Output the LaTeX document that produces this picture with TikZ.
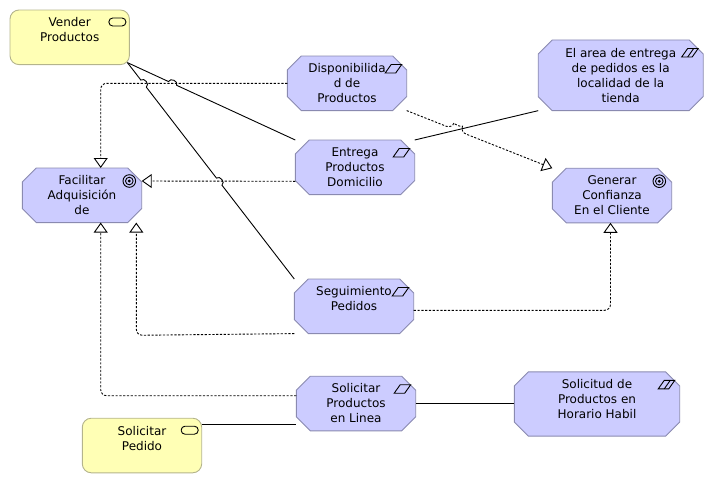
\documentclass[tikz,border=0pt]{standalone}
\usepackage{fontspec}
\setmainfont{DejaVu Sans}
\usetikzlibrary{calc,arrows.meta,shapes.misc}
\definecolor{boxblue}{HTML}{CCCCFF}
\definecolor{boxyellow}{HTML}{FFFFB5}
\definecolor{edgeblue}{HTML}{8A8AB0}
\definecolor{edgeyellow}{HTML}{B4B48C}
\tikzset{
	motive/.style={draw=edgeblue,fill=boxblue,line width=0.9pt,chamfered rectangle,chamfered rectangle xsep=7pt,chamfered rectangle ysep=7pt,inner sep=0pt,outer sep=0pt,align=center,font=\fontsize{12}{15}\selectfont,minimum width=119.4pt,minimum height=54.6pt},
	business/.style={draw=edgeyellow,fill=boxyellow,line width=0.9pt,rectangle,rounded corners=9pt,inner sep=0pt,outer sep=0pt,align=center,font=\fontsize{12}{15}\selectfont,minimum width=119.4pt,minimum height=54.6pt},
	assoc/.style={draw=black,line width=0.9pt},
	realize/.style={draw=black,line width=0.9pt,dash pattern=on 2.2pt off 1.6pt,rounded corners=6pt,-{Triangle[length=10pt,width=14pt,fill=white]}},
	jump/.style={bend left=90,looseness=1.3},
	icon/.style={draw=black,line width=0.9pt}
}
\begin{document}
\begin{tikzpicture}[x=1pt,y=-1pt]
\useasboundingbox (0,0) rectangle (713,483);
% elements
\node (vender) [business] at (69.7,37.3) {Vender\\Productos\\~};
\node (pedido) [business] at (142,445.5) {Solicitar\\Pedido\\~};
\node (facilitar) [motive] at (82,195.3) {Facilitar\\Adquisición\\de};
\node (generar) [motive] at (612,195.5) {Generar\\Confianza\\En el Cliente};
\node (disponibilidad) [motive] at (347,83.3) {Disponibilida\\d de\\Productos};
\node (entrega) [motive] at (355,167.3) {Entrega\\Productos\\Domicilio};
\node (seguimiento) [motive] at (354,306.3) {Seguimiento\\Pedidos\\~};
\node (solicitar) [motive] at (356,403.5) {Solicitar\\Productos\\en Linea};
\node (localidad) [motive,minimum width=165pt,minimum height=70.7pt] at (620.7,75.3) {El area de entrega\\de pedidos es la\\localidad de la\\tienda};
\node (horario) [motive,minimum width=165.4pt,minimum height=63.4pt] at (597,404) {Solicitud de\\Productos en\\Horario Habil\\[-4pt]~};
% box corners
\foreach \n in {vender,pedido,facilitar,generar,disponibilidad,entrega,seguimiento,solicitar,localidad,horario} {
	\coordinate (\n-ne) at (\n.north -| \n.east);
	\coordinate (\n-nw) at (\n.north -| \n.west);
	\coordinate (\n-se) at (\n.south -| \n.east);
	\coordinate (\n-sw) at (\n.south -| \n.west);
}
% icons
\foreach \n in {vender,pedido} {
	\draw [icon,rounded corners=3.8pt] ([shift={(-20.5,8)}]\n-ne) rectangle ([shift={(-3.5,16)}]\n-ne);
}
\foreach \n in {facilitar,generar} {
	\draw [icon] ([shift={(-12.4,13)}]\n-ne) circle (6.3pt);
	\draw [icon] ([shift={(-12.4,13)}]\n-ne) circle (3.8pt);
	\fill ([shift={(-12.4,13)}]\n-ne) circle (1.6pt);
}
\foreach \n in {disponibilidad,entrega,seguimiento,solicitar,localidad,horario} {
	\draw [icon] ([shift={(-21.5,17)}]\n-ne) -- ([shift={(-15.5,8.5)}]\n-ne) -- ([shift={(-5,8.5)}]\n-ne) -- ([shift={(-11,17)}]\n-ne) -- cycle;
}
\foreach \n in {localidad,horario} {
	\draw [icon] ([shift={(-15.5,17)}]\n-ne) -- ([shift={(-9.5,8.5)}]\n-ne);
}
% associations
\coordinate (start) at ([shift={(-2,-2)}]vender-se);
\coordinate (jumpa) at ($(start)!.269!(entrega-nw)$);
\coordinate (jumpb) at ($(start)!.097!(seguimiento-nw)$);
\coordinate (jumpc) at ($(start)!.55!(seguimiento-nw)$);
\draw [assoc] (start) -- ($(jumpa)!-4.5pt!(entrega-nw)$) to[jump] ($(jumpa)!4.5pt!(entrega-nw)$) -- (entrega-nw);
\draw [assoc] (start) -- ($(jumpb)!-4.5pt!(seguimiento-nw)$) to[jump] ($(jumpb)!4.5pt!(seguimiento-nw)$) -- ($(jumpc)!-4.5pt!(seguimiento-nw)$) to[jump] ($(jumpc)!4.5pt!(seguimiento-nw)$) -- (seguimiento-nw);
\draw [assoc] (entrega-ne) -- (localidad-sw);
\draw [assoc] (solicitar.east) -- (horario.west |- solicitar.east);
\draw [assoc] ([yshift=-6pt]pedido-ne) -- ([yshift=-6pt]pedido-ne -| solicitar.west);
% realizations
\draw [realize] (disponibilidad.west) -| ([xshift=18.7pt]facilitar.north);
\draw [realize] ([yshift=-14pt]entrega.west) -- ([yshift=14.3pt]facilitar.east);
\coordinate (turn) at ($(facilitar.south)+(54.3,112.7)$);
\draw [realize] (seguimiento-sw) -- (turn) -- ([xshift=54.3pt]facilitar.south);
\draw [realize] ([yshift=7.8pt]solicitar.west) -| ([xshift=18.7pt]facilitar.south);
\draw [realize] ([yshift=-4pt]seguimiento.east) -| ([xshift=-1.5pt]generar.south);
\coordinate (jumpd) at ($(disponibilidad-se)!.339!(generar-nw)$);
\draw [realize] (disponibilidad-se) -- ($(jumpd)!-4.5pt!(generar-nw)$) to[jump] ($(jumpd)!4.5pt!(generar-nw)$) -- (generar-nw);
\end{tikzpicture}
\end{document}
